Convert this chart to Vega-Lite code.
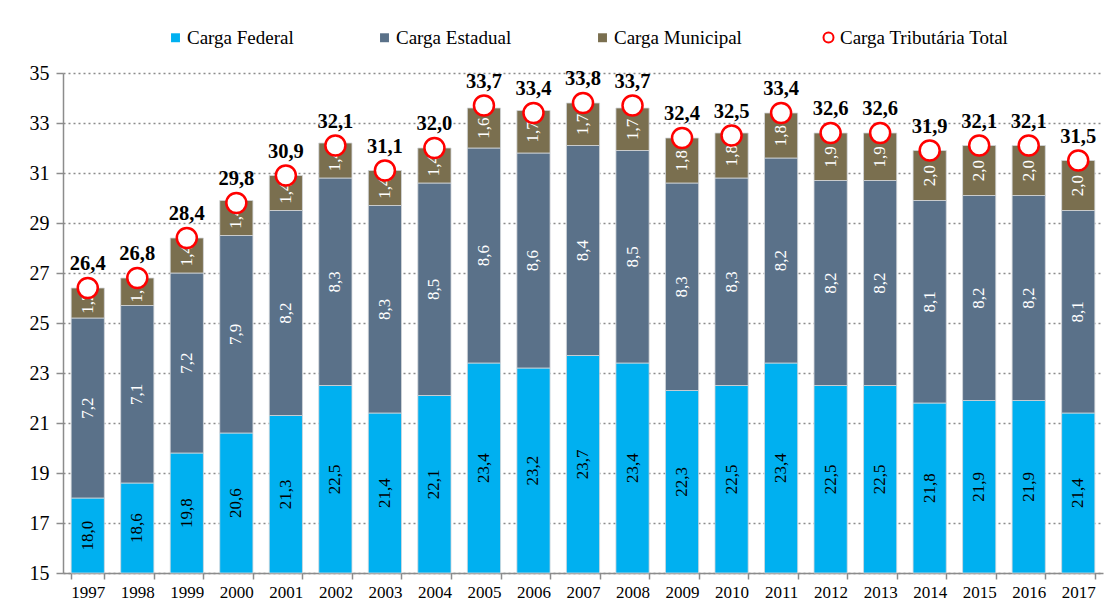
{
  "$schema": "https://vega.github.io/schema/vega-lite/v6.json",
  "width": 1040,
  "height": 500,
  "autosize": {"type": "none"},
  "padding": {"left": 63, "top": 73, "right": 7, "bottom": 30},
  "background": "white",
  "config": {
    "locale": {"number": {"decimal": ",", "thousands": ".", "grouping": [3], "currency": ["R$", ""]}},
    "view": {"stroke": null},
    "font": "Liberation Serif"
  },
  "datasets": {
    "componentes": [
      {"ano": "1997", "carga": "Carga Federal", "valor": 18.0}, {"ano": "1997", "carga": "Carga Estadual", "valor": 7.2}, {"ano": "1997", "carga": "Carga Municipal", "valor": 1.2},
      {"ano": "1998", "carga": "Carga Federal", "valor": 18.6}, {"ano": "1998", "carga": "Carga Estadual", "valor": 7.1}, {"ano": "1998", "carga": "Carga Municipal", "valor": 1.1},
      {"ano": "1999", "carga": "Carga Federal", "valor": 19.8}, {"ano": "1999", "carga": "Carga Estadual", "valor": 7.2}, {"ano": "1999", "carga": "Carga Municipal", "valor": 1.4},
      {"ano": "2000", "carga": "Carga Federal", "valor": 20.6}, {"ano": "2000", "carga": "Carga Estadual", "valor": 7.9}, {"ano": "2000", "carga": "Carga Municipal", "valor": 1.4},
      {"ano": "2001", "carga": "Carga Federal", "valor": 21.3}, {"ano": "2001", "carga": "Carga Estadual", "valor": 8.2}, {"ano": "2001", "carga": "Carga Municipal", "valor": 1.4},
      {"ano": "2002", "carga": "Carga Federal", "valor": 22.5}, {"ano": "2002", "carga": "Carga Estadual", "valor": 8.3}, {"ano": "2002", "carga": "Carga Municipal", "valor": 1.4},
      {"ano": "2003", "carga": "Carga Federal", "valor": 21.4}, {"ano": "2003", "carga": "Carga Estadual", "valor": 8.3}, {"ano": "2003", "carga": "Carga Municipal", "valor": 1.4},
      {"ano": "2004", "carga": "Carga Federal", "valor": 22.1}, {"ano": "2004", "carga": "Carga Estadual", "valor": 8.5}, {"ano": "2004", "carga": "Carga Municipal", "valor": 1.4},
      {"ano": "2005", "carga": "Carga Federal", "valor": 23.4}, {"ano": "2005", "carga": "Carga Estadual", "valor": 8.6}, {"ano": "2005", "carga": "Carga Municipal", "valor": 1.6},
      {"ano": "2006", "carga": "Carga Federal", "valor": 23.2}, {"ano": "2006", "carga": "Carga Estadual", "valor": 8.6}, {"ano": "2006", "carga": "Carga Municipal", "valor": 1.7},
      {"ano": "2007", "carga": "Carga Federal", "valor": 23.7}, {"ano": "2007", "carga": "Carga Estadual", "valor": 8.4}, {"ano": "2007", "carga": "Carga Municipal", "valor": 1.7},
      {"ano": "2008", "carga": "Carga Federal", "valor": 23.4}, {"ano": "2008", "carga": "Carga Estadual", "valor": 8.5}, {"ano": "2008", "carga": "Carga Municipal", "valor": 1.7},
      {"ano": "2009", "carga": "Carga Federal", "valor": 22.3}, {"ano": "2009", "carga": "Carga Estadual", "valor": 8.3}, {"ano": "2009", "carga": "Carga Municipal", "valor": 1.8},
      {"ano": "2010", "carga": "Carga Federal", "valor": 22.5}, {"ano": "2010", "carga": "Carga Estadual", "valor": 8.3}, {"ano": "2010", "carga": "Carga Municipal", "valor": 1.8},
      {"ano": "2011", "carga": "Carga Federal", "valor": 23.4}, {"ano": "2011", "carga": "Carga Estadual", "valor": 8.2}, {"ano": "2011", "carga": "Carga Municipal", "valor": 1.8},
      {"ano": "2012", "carga": "Carga Federal", "valor": 22.5}, {"ano": "2012", "carga": "Carga Estadual", "valor": 8.2}, {"ano": "2012", "carga": "Carga Municipal", "valor": 1.9},
      {"ano": "2013", "carga": "Carga Federal", "valor": 22.5}, {"ano": "2013", "carga": "Carga Estadual", "valor": 8.2}, {"ano": "2013", "carga": "Carga Municipal", "valor": 1.9},
      {"ano": "2014", "carga": "Carga Federal", "valor": 21.8}, {"ano": "2014", "carga": "Carga Estadual", "valor": 8.1}, {"ano": "2014", "carga": "Carga Municipal", "valor": 2.0},
      {"ano": "2015", "carga": "Carga Federal", "valor": 21.9}, {"ano": "2015", "carga": "Carga Estadual", "valor": 8.2}, {"ano": "2015", "carga": "Carga Municipal", "valor": 2.0},
      {"ano": "2016", "carga": "Carga Federal", "valor": 21.9}, {"ano": "2016", "carga": "Carga Estadual", "valor": 8.2}, {"ano": "2016", "carga": "Carga Municipal", "valor": 2.0},
      {"ano": "2017", "carga": "Carga Federal", "valor": 21.4}, {"ano": "2017", "carga": "Carga Estadual", "valor": 8.1}, {"ano": "2017", "carga": "Carga Municipal", "valor": 2.0}
    ],
    "totais": [
      {"ano": "1997", "total": 26.4}, {"ano": "1998", "total": 26.8}, {"ano": "1999", "total": 28.4},
      {"ano": "2000", "total": 29.8}, {"ano": "2001", "total": 30.9}, {"ano": "2002", "total": 32.1},
      {"ano": "2003", "total": 31.1}, {"ano": "2004", "total": 32.0}, {"ano": "2005", "total": 33.7},
      {"ano": "2006", "total": 33.4}, {"ano": "2007", "total": 33.8}, {"ano": "2008", "total": 33.7},
      {"ano": "2009", "total": 32.4}, {"ano": "2010", "total": 32.5}, {"ano": "2011", "total": 33.4},
      {"ano": "2012", "total": 32.6}, {"ano": "2013", "total": 32.6}, {"ano": "2014", "total": 31.9},
      {"ano": "2015", "total": 32.1}, {"ano": "2016", "total": 32.1}, {"ano": "2017", "total": 31.5}
    ]
  },
  "encoding": {
    "x": {
      "field": "ano",
      "type": "ordinal",
      "scale": {"paddingInner": 0.33, "paddingOuter": 0.165},
      "axis": {
        "title": null,
        "labelAngle": 0,
        "labelFontSize": 17,
        "labelColor": "#000000",
        "labelPadding": 5,
        "tickBand": "extent",
        "tickSize": 6,
        "tickColor": "#8C8C8C",
        "tickWidth": 1.5,
        "domainColor": "#8C8C8C",
        "domainWidth": 1.5,
        "grid": false
      }
    }
  },
  "layer": [
    {
      "data": {"name": "componentes"},
      "transform": [
        {"calculate": "indexof(['Carga Federal','Carga Estadual','Carga Municipal'], datum.carga)", "as": "ordem"},
        {"stack": "valor", "groupby": ["ano"], "sort": [{"field": "ordem", "order": "ascending"}], "as": ["v0", "v1"]},
        {"calculate": "(max(datum.v0, 15) + datum.v1) / 2", "as": "meio"}
      ],
      "layer": [
        {
          "mark": {"type": "bar", "stroke": "#D3D7DB", "strokeWidth": 0.8},
          "encoding": {
            "y": {
              "field": "v1",
              "type": "quantitative",
              "scale": {"domain": [15, 35], "clamp": true, "zero": false, "nice": false},
              "axis": {
                "title": null,
                "values": [15, 17, 19, 21, 23, 25, 27, 29, 31, 33, 35],
                "labelFontSize": 20,
                "labelColor": "#000000",
                "labelPadding": 7,
                "tickSize": 7,
                "tickColor": "#8C8C8C",
                "tickWidth": 1.5,
                "domainColor": "#8C8C8C",
                "domainWidth": 1.5,
                "grid": true,
                "gridColor": "#8C8C8C",
                "gridDash": [2, 3],
                "gridWidth": 1.5
              }
            },
            "y2": {"field": "v0"},
            "color": {
              "field": "carga",
              "type": "nominal",
              "scale": {
                "domain": ["Carga Federal", "Carga Estadual", "Carga Municipal"],
                "range": ["#00B0F0", "#5A7189", "#7A6F4F"]
              },
              "legend": {
                "title": null,
                "orient": "none",
                "direction": "horizontal",
                "legendX": 103,
                "legendY": -45,
                "labelFontSize": 19,
                "labelColor": "#000000",
                "labelOffset": 2,
                "labelLimit": 300,
                "columnPadding": 81,
                "symbolType": "square",
                "symbolSize": 80,
                "symbolStrokeWidth": 0
              }
            }
          }
        },
        {
          "mark": {"type": "text", "angle": 270, "fontSize": 17, "baseline": "middle", "align": "center"},
          "encoding": {
            "y": {"field": "meio", "type": "quantitative"},
            "text": {"field": "valor", "type": "quantitative", "format": ".1f"},
            "color": {"condition": {"test": "datum.carga === 'Carga Federal'", "value": "#000000"}, "value": "#FFFFFF"}
          }
        }
      ]
    },
    {
      "data": {"name": "totais"},
      "layer": [
        {
          "mark": {"type": "point", "shape": "circle", "filled": false, "fill": "white", "strokeWidth": 2.5, "size": 400, "opacity": 1},
          "encoding": {
            "y": {"field": "total", "type": "quantitative"},
            "stroke": {
              "datum": "Carga Tributária Total",
              "type": "nominal",
              "scale": {"range": ["#FF0000"]},
              "legend": {
                "title": null,
                "orient": "none",
                "direction": "horizontal",
                "legendX": 756,
                "legendY": -45,
                "labelFontSize": 19,
                "labelColor": "#000000",
                "labelOffset": 2,
                "labelLimit": 300,
                "symbolType": "circle",
                "symbolSize": 100,
                "symbolStrokeWidth": 2,
                "symbolFillColor": "white"
              }
            }
          }
        },
        {
          "mark": {"type": "text", "fontWeight": "bold", "fontSize": 20.5, "baseline": "bottom", "dy": -14, "color": "#000000"},
          "encoding": {
            "y": {"field": "total", "type": "quantitative"},
            "text": {"field": "total", "type": "quantitative", "format": ".1f"}
          }
        }
      ]
    }
  ]
}
